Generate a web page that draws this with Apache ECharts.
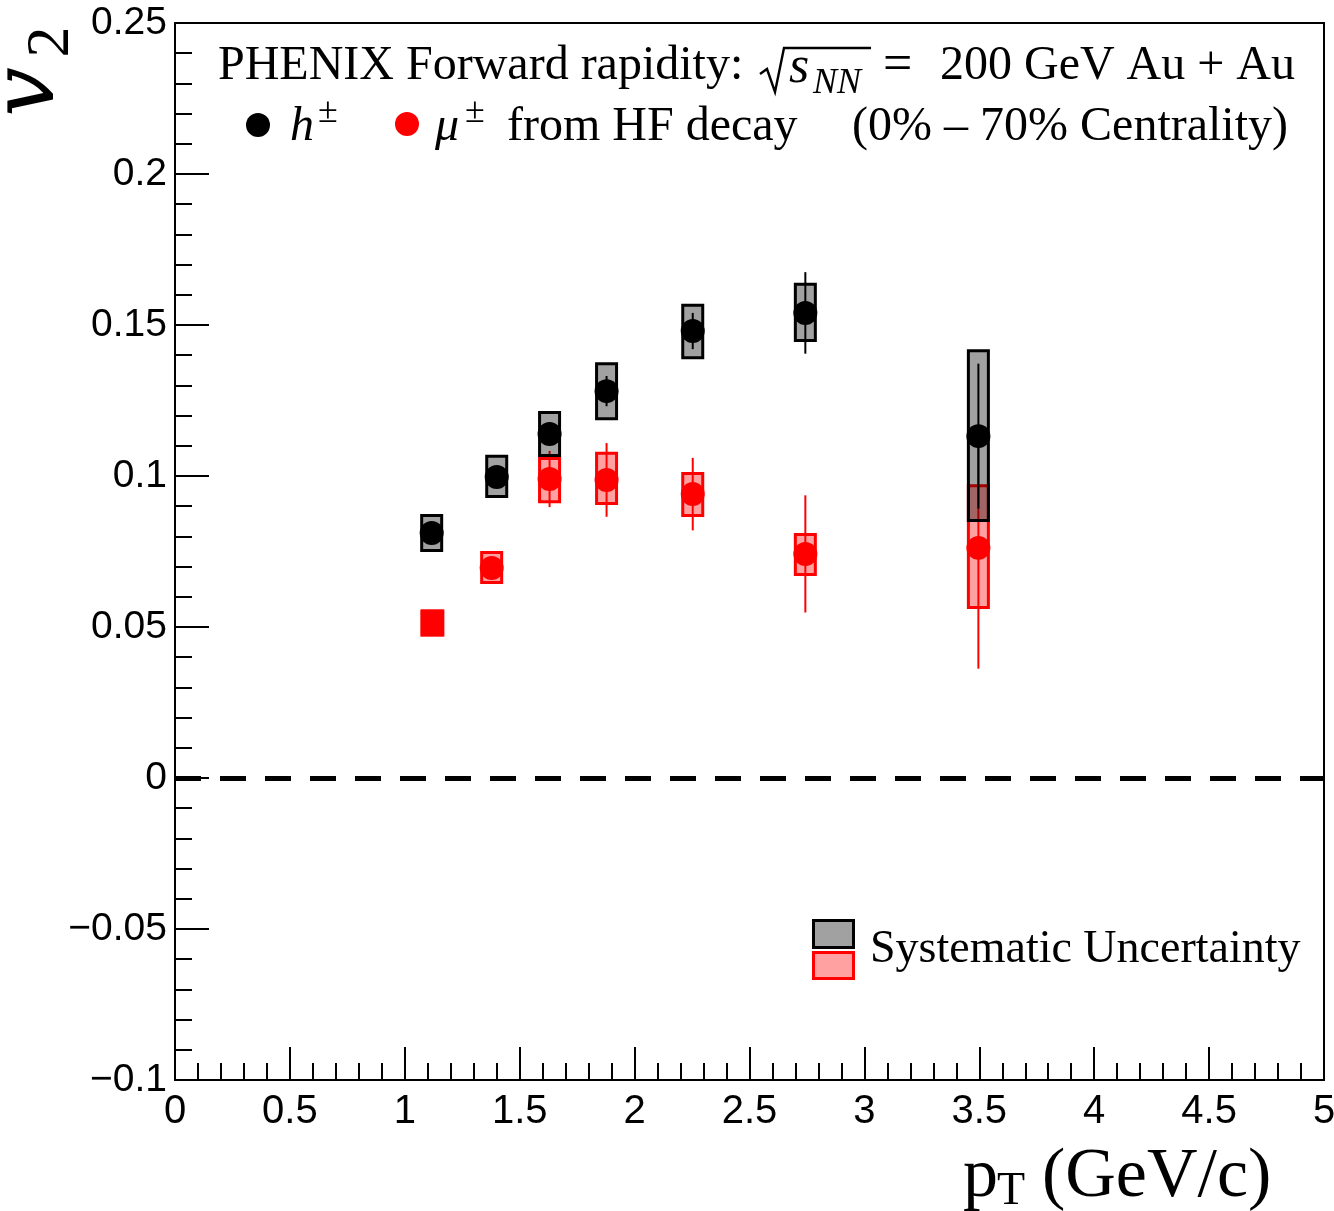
<!DOCTYPE html>
<html>
<head>
<meta charset="utf-8">
<script src="https://cdn.jsdelivr.net/npm/echarts@6/dist/echarts.min.js"></script>
<style>
  html, body { margin: 0; padding: 0; background: #fff; }
  #chart { width: 1334px; height: 1211px; }
</style>
</head>
<body>
<div id="chart"></div>
<script>
// Charged hadrons h±
const hPt    = [1.117, 1.400, 1.630, 1.878, 2.253, 2.743, 3.496];
const hV2    = [0.0811, 0.0997, 0.1139, 0.1281, 0.1480, 0.1540, 0.1132];
const hStat  = [0.0020, 0.0020, 0.0030, 0.0050, 0.0060, 0.0135, 0.0240];
const hSysLo = [0.0748, 0.0927, 0.1063, 0.1185, 0.1387, 0.1444, 0.0848];
const hSysHi = [0.0874, 0.1070, 0.1215, 0.1377, 0.1570, 0.1640, 0.1420];

// Muons from heavy-flavour decay
const muPt    = [1.120, 1.378, 1.630, 1.878, 2.253, 2.743, 3.496];
const muV2    = [0.0513, 0.0695, 0.0990, 0.0987, 0.0940, 0.0742, 0.0762];
const muStat  = [0.0010, 0.0020, 0.0093, 0.0122, 0.0120, 0.0194, 0.0400];
const muSysLo = [0.0469, 0.0642, 0.0910, 0.0904, 0.0864, 0.0669, 0.0560];
const muSysHi = [0.0558, 0.0752, 0.1063, 0.1080, 0.1013, 0.0811, 0.0973];

// Axis tick labels
const xTickLabels = ['0', '0.5', '1', '1.5', '2', '2.5', '3', '3.5', '4', '4.5', '5'];
const yTickLabels = ['\u22120.1', '\u22120.05', '0', '0.05', '0.1', '0.15', '0.2', '0.25'];

const SANS = '"Liberation Sans", Arial, sans-serif';
const SERIF = '"Liberation Serif", "Times New Roman", serif';

const GRAY_FILL = 'rgba(0,0,0,0.37)';
const RED_FILL = 'rgba(255,0,0,0.37)';

function sysBoxSeries(pts, lo, hi, fill, stroke, z) {
  return {
    type: 'custom',
    z: z,
    data: pts.map((x, i) => [x, lo[i], hi[i]]),
    renderItem: function (params, api) {
      const top = api.coord([api.value(0), api.value(2)]);
      const bot = api.coord([api.value(0), api.value(1)]);
      const halfW = 10;
      return {
        type: 'rect',
        shape: { x: top[0] - halfW, y: top[1] + 1.5, width: 2 * halfW, height: bot[1] - top[1] - 3 },
        style: { fill: fill, stroke: stroke, lineWidth: 3 }
      };
    },
    silent: true
  };
}

function statBarSeries(pts, v, err, color, z) {
  return {
    type: 'custom',
    z: z,
    data: pts.map((x, i) => [x, v[i] - err[i], v[i] + err[i]]),
    renderItem: function (params, api) {
      const a = api.coord([api.value(0), api.value(1)]);
      const b = api.coord([api.value(0), api.value(2)]);
      return {
        type: 'line',
        shape: { x1: a[0], y1: a[1], x2: b[0], y2: b[1] },
        style: { stroke: color, lineWidth: 2 }
      };
    },
    silent: true
  };
}

const chart = echarts.init(document.getElementById('chart'), null, { renderer: 'canvas' });

const option = {
  animation: false,
  backgroundColor: '#fff',
  grid: {
    left: 175, right: 10, top: 23, bottom: 131,
    outerBoundsMode: 'none',
    containLabel: false,
    show: true, borderColor: '#000', borderWidth: 2, backgroundColor: 'transparent'
  },
  xAxis: {
    type: 'value', min: 0, max: 5, interval: 0.5,
    axisLine: { show: true, onZero: false, lineStyle: { color: '#000', width: 2 } },
    axisTick: { show: true, inside: true, length: 33, lineStyle: { color: '#000', width: 2 } },
    minorTick: { show: true, splitNumber: 5, length: 17, lineStyle: { color: '#000', width: 2 } },
    splitLine: { show: false },
    axisLabel: {
      show: true, margin: 12, color: '#000', fontFamily: SANS, fontSize: 40,
      formatter: v => xTickLabels[Math.round(v / 0.5)]
    }
  },
  yAxis: {
    type: 'value', min: -0.1, max: 0.25, interval: 0.05,
    axisLine: { show: true, onZero: false, lineStyle: { color: '#000', width: 2 } },
    axisTick: { show: true, inside: true, length: 34, lineStyle: { color: '#000', width: 2 } },
    minorTick: { show: true, splitNumber: 5, length: 17, lineStyle: { color: '#000', width: 2 } },
    splitLine: { show: false },
    axisLabel: {
      show: true, margin: 8, color: '#000', fontFamily: SANS, fontSize: 39,
      formatter: v => yTickLabels[Math.round((v + 0.1) / 0.05)]
    }
  },
  series: [
    // muon systematics and statistical bars
    sysBoxSeries(muPt, muSysLo, muSysHi, RED_FILL, '#ff0000', 2),
    statBarSeries(muPt, muV2, muStat, '#ff0000', 3),
    // hadron systematics and statistical bars
    sysBoxSeries(hPt, hSysLo, hSysHi, GRAY_FILL, '#000', 4),
    statBarSeries(hPt, hV2, hStat, '#000', 5),
    // muon points
    {
      type: 'scatter',
      z: 6,
      data: muPt.map((x, i) => i === 0
        ? { value: [x, muV2[i]], symbol: 'rect', symbolSize: [24, 27] }
        : { value: [x, muV2[i]] }),
      symbol: 'circle', symbolSize: 24,
      itemStyle: { color: '#ff0000', opacity: 1 },
      silent: true,
      markLine: {
        silent: true, symbol: 'none',
        label: { show: false },
        lineStyle: { color: '#000', width: 5, type: [26, 19] },
        data: [{ yAxis: 0 }]
      }
    },
    // hadron points
    {
      type: 'scatter',
      z: 7,
      data: hPt.map((x, i) => [x, hV2[i]]),
      symbol: 'circle', symbolSize: 24,
      itemStyle: { color: '#000', opacity: 1 },
      silent: true
    }
  ],
  graphic: [
    // header line 1
    { type: 'text', x: 218, y: 66, style: { text: 'PHENIX Forward rapidity:', font: '48px ' + SERIF, fill: '#000', verticalAlign: 'middle' } },
    { type: 'polyline', shape: { points: [[760, 74], [767, 69], [775, 92], [784, 48], [871, 48]] }, style: { stroke: '#000', lineWidth: 2.4, fill: null } },
    { type: 'text', x: 789, y: 68, style: { text: 's', font: 'italic 52px ' + SERIF, fill: '#000', verticalAlign: 'middle' } },
    { type: 'text', x: 813, y: 84, style: { text: 'NN', font: 'italic 36px ' + SERIF, fill: '#000', verticalAlign: 'middle' } },
    { type: 'text', x: 883, y: 66, style: { text: '=', font: '52px ' + SERIF, fill: '#000', verticalAlign: 'middle' } },
    { type: 'text', x: 1295, y: 66, style: { text: '200 GeV Au + Au', font: '48px ' + SERIF, fill: '#000', verticalAlign: 'middle', align: 'right' } },
    // header line 2
    { type: 'circle', shape: { cx: 258, cy: 125, r: 12 }, style: { fill: '#000' } },
    { type: 'text', x: 290, y: 127, style: { text: 'h', font: 'italic 48px ' + SERIF, fill: '#000', verticalAlign: 'middle' } },
    { type: 'text', x: 318, y: 113, style: { text: '\u00b1', font: '36px ' + SERIF, fill: '#000', verticalAlign: 'middle' } },
    { type: 'circle', shape: { cx: 407, cy: 124, r: 12 }, style: { fill: '#ff0000' } },
    { type: 'text', x: 435, y: 127, style: { text: '\u03bc', font: 'italic 48px ' + SERIF, fill: '#000', verticalAlign: 'middle' } },
    { type: 'text', x: 465, y: 113, style: { text: '\u00b1', font: '36px ' + SERIF, fill: '#000', verticalAlign: 'middle' } },
    { type: 'text', x: 507, y: 127, style: { text: 'from HF decay', font: '48px ' + SERIF, fill: '#000', verticalAlign: 'middle' } },
    { type: 'text', x: 1288, y: 127, style: { text: '(0% \u2013 70% Centrality)', font: '48px ' + SERIF, fill: '#000', verticalAlign: 'middle', align: 'right' } },
    // y-axis title v2
    { type: 'text', x: 30, y: 92, rotation: Math.PI / 2, style: { text: 'v', font: 'italic 88px "DejaVu Serif", ' + SERIF, fill: '#000', align: 'center', verticalAlign: 'middle' } },
    { type: 'text', x: 52, y: 42, rotation: Math.PI / 2, style: { text: '2', font: '62px ' + SERIF, fill: '#000', align: 'center', verticalAlign: 'middle' } },
    // x-axis title
    { type: 'text', x: 963, y: 1178, style: { text: 'p', font: '70px ' + SERIF, fill: '#000', verticalAlign: 'middle' } },
    { type: 'text', x: 997, y: 1192, style: { text: 'T', font: '46px ' + SERIF, fill: '#000', verticalAlign: 'middle' } },
    { type: 'text', x: 1042, y: 1178, style: { text: '(GeV/c)', font: '70px ' + SERIF, fill: '#000', verticalAlign: 'middle' } },
    // systematic uncertainty legend
    { type: 'rect', shape: { x: 813.5, y: 920.5, width: 40, height: 27 }, style: { fill: GRAY_FILL, stroke: '#000', lineWidth: 3 } },
    { type: 'rect', shape: { x: 813.5, y: 952.5, width: 40, height: 26 }, style: { fill: RED_FILL, stroke: '#ff0000', lineWidth: 3 } },
    { type: 'text', x: 870, y: 950, style: { text: 'Systematic Uncertainty', font: '46px ' + SERIF, fill: '#000', verticalAlign: 'middle' } }
  ]
};

chart.setOption(option);
</script>
</body>
</html>
